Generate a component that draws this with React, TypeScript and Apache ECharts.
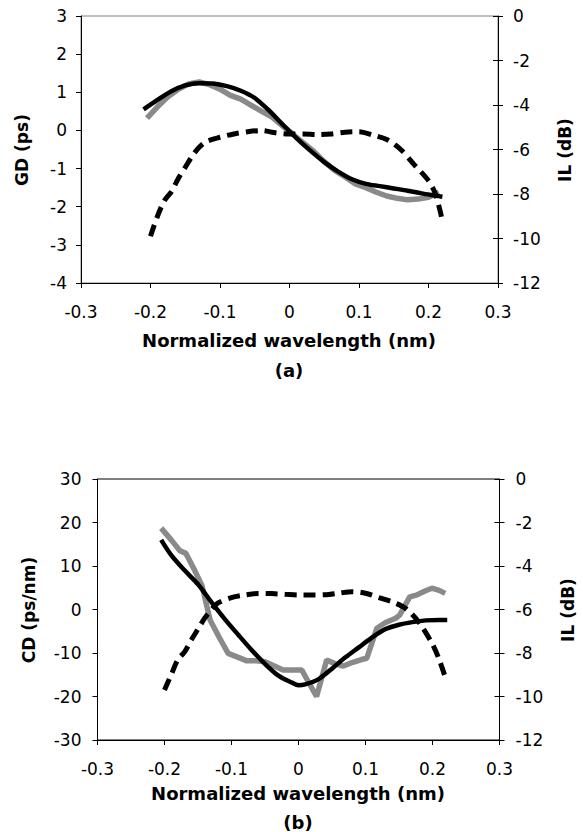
import React, { useEffect, useRef } from "react";
import * as echarts from "echarts";

// ---------- Data (a) ----------
const gdMeasX = [-0.205, -0.19, -0.175, -0.16, -0.145, -0.13, -0.115, -0.1, -0.085, -0.07, -0.055, -0.04, -0.025, -0.01, 0.005, 0.02, 0.035, 0.05, 0.065, 0.08, 0.095, 0.11, 0.125, 0.14, 0.155, 0.17, 0.185, 0.2, 0.215];
const gdMeas = [0.32, 0.62, 0.88, 1.08, 1.22, 1.27, 1.2, 1.08, 0.92, 0.82, 0.66, 0.5, 0.35, 0.12, -0.1, -0.33, -0.55, -0.82, -1.05, -1.22, -1.4, -1.5, -1.62, -1.72, -1.78, -1.82, -1.8, -1.75, -1.62];

const gdFitX = [-0.21, -0.19, -0.17, -0.15, -0.13, -0.11, -0.09, -0.07, -0.05, -0.03, -0.01, 0.01, 0.03, 0.05, 0.07, 0.09, 0.11, 0.13, 0.15, 0.17, 0.19, 0.21, 0.22];
const gdFit = [0.55, 0.8, 1.03, 1.18, 1.24, 1.23, 1.16, 1.04, 0.85, 0.53, 0.16, -0.2, -0.53, -0.83, -1.08, -1.28, -1.4, -1.46, -1.52, -1.58, -1.65, -1.71, -1.74];

const ilAX = [-0.2, -0.19, -0.18, -0.17, -0.16, -0.15, -0.14, -0.13, -0.12, -0.1, -0.08, -0.06, -0.04, -0.02, 0, 0.02, 0.04, 0.06, 0.08, 0.1, 0.12, 0.14, 0.16, 0.18, 0.2, 0.21, 0.22];
const ilA = [-9.9, -9.0, -8.3, -7.9, -7.3, -6.8, -6.3, -5.9, -5.65, -5.45, -5.3, -5.2, -5.15, -5.25, -5.3, -5.3, -5.33, -5.3, -5.22, -5.2, -5.35, -5.55, -6.0, -6.7, -7.4, -8.0, -9.2];

// ---------- Data (b) ----------
const cdMeasX = [-0.205, -0.19, -0.177, -0.168, -0.155, -0.144, -0.132, -0.118, -0.105, -0.09, -0.077, -0.063, -0.05, -0.036, -0.023, -0.009, 0.005, 0.016, 0.027, 0.042, 0.055, 0.067, 0.08, 0.094, 0.102, 0.117, 0.13, 0.145, 0.151, 0.166, 0.176, 0.188, 0.199, 0.21, 0.219];
const cdMeas = [18.7, 16, 13.5, 12.9, 9, 5.5, -2.4, -6.5, -10.1, -11, -11.8, -11.8, -12, -13, -13.9, -13.9, -13.9, -17, -20, -11.6, -12.5, -13, -12.2, -11.5, -11.2, -4.3, -3, -2, -1.3, 2.9, 3.3, 4.2, 4.9, 4.4, 3.7];

const cdFitX = [-0.205, -0.19, -0.17, -0.15, -0.13, -0.11, -0.09, -0.07, -0.05, -0.03, -0.01, 0, 0.01, 0.03, 0.05, 0.07, 0.09, 0.11, 0.13, 0.15, 0.17, 0.19, 0.21, 0.222];
const cdFit = [16, 12.5, 9, 5.8, 1.7, -2.2, -5.8, -9.3, -12.5, -15.2, -16.8, -17.4, -17.2, -16, -13.6, -11, -8.7, -6.4, -4.5, -3.5, -2.9, -2.5, -2.4, -2.4];

const ilBX = [-0.2, -0.19, -0.18, -0.17, -0.16, -0.15, -0.14, -0.13, -0.12, -0.1, -0.08, -0.06, -0.04, -0.02, 0, 0.02, 0.04, 0.06, 0.08, 0.1, 0.12, 0.14, 0.16, 0.18, 0.2, 0.21, 0.22];
const ilB = [-9.7, -9.0, -8.3, -7.95, -7.4, -6.9, -6.4, -6.0, -5.7, -5.45, -5.33, -5.26, -5.27, -5.3, -5.33, -5.33, -5.32, -5.25, -5.18, -5.25, -5.45, -5.65, -5.95, -6.6, -7.6, -8.3, -9.2];

// ---------- Axis ticks ----------
const xTicks = { min: -0.3, max: 0.3, interval: 0.1 };
const gdTicks = { min: -4, max: 3, interval: 1 };
const cdTicks = { min: -30, max: 30, interval: 10 };
const ilTicks = { min: -12, max: 0, interval: 2 };

const zip = (xs: number[], ys: number[]) => xs.map((x, i) => [x, ys[i]]);

const FONT = '"DejaVu Sans", "Liberation Sans", sans-serif';
const GRAY = "#8a8a8a";

function xAxis(gridIndex: number) {
  return {
    type: "value",
    gridIndex,
    ...xTicks,
    axisLine: { show: true, onZero: false, lineStyle: { color: "#000", width: 1 } },
    axisTick: { show: true, inside: false, length: 5, lineStyle: { color: "#000" } },
    axisLabel: {
      margin: 20,
      color: "#000",
      fontSize: 17,
      fontFamily: FONT,
      formatter: (v: number) => String(parseFloat(v.toFixed(1))),
    },
    splitLine: { show: false },
  };
}

function leftAxis(gridIndex: number, ticks: any, margin: number) {
  return {
    type: "value",
    gridIndex,
    position: "left",
    ...ticks,
    axisLine: { show: true, onZero: false, lineStyle: { color: "#000", width: 1 } },
    axisTick: { show: true, inside: false, length: 5, lineStyle: { color: "#000" } },
    axisLabel: { margin, color: "#000", fontSize: 17, fontFamily: FONT },
    splitLine: { show: false },
  };
}

function rightAxis(gridIndex: number, margin: number) {
  return {
    type: "value",
    gridIndex,
    position: "right",
    ...ilTicks,
    axisLine: { show: true, onZero: false, lineStyle: { color: "#000", width: 1 } },
    axisTick: { show: true, inside: false, length: 5, lineStyle: { color: "#000" } },
    axisLabel: { margin, color: "#000", fontSize: 17, fontFamily: FONT },
    splitLine: { show: false },
  };
}

function rightInsideTicks(gridIndex: number) {
  return {
    type: "value",
    gridIndex,
    position: "right",
    offset: 0,
    ...ilTicks,
    axisLine: { show: false, onZero: false },
    axisTick: { show: true, inside: true, length: 5, lineStyle: { color: "#000" } },
    axisLabel: { show: false },
    splitLine: { show: false },
  };
}

function text(str: string, x: number, y: number, size: number, rotate = false) {
  return {
    type: "text",
    x,
    y,
    rotation: rotate ? Math.PI / 2 : 0,
    silent: true,
    style: {
      text: str,
      fill: "#000",
      fontSize: size,
      fontWeight: "bold",
      fontFamily: FONT,
      align: "center",
      verticalAlign: "middle",
      textAlign: "center",
      textVerticalAlign: "middle",
    },
  };
}

export default function App() {
  const ref = useRef<HTMLDivElement>(null);

  useEffect(() => {
    if (!ref.current) return;
    const chart = echarts.init(ref.current, null, { renderer: "svg" });
    chart.setOption({
      animation: false,
      backgroundColor: "#fff",
      grid: [
        { left: 81, top: 16, width: 417, height: 267, show: true, borderColor: "#808080", borderWidth: 1, backgroundColor: "transparent" },
        { left: 97.5, top: 479, width: 402, height: 261, show: true, borderColor: "#000", borderWidth: 1, backgroundColor: "transparent" },
      ],
      xAxis: [xAxis(0), xAxis(1)],
      yAxis: [
        leftAxis(0, gdTicks, 14),
        rightAxis(0, 15),
        rightInsideTicks(0),
        leftAxis(1, cdTicks, 16),
        rightAxis(1, 16),
        rightInsideTicks(1),
      ],
      series: [
        {
          type: "line", name: "GD measured", xAxisIndex: 0, yAxisIndex: 0,
          data: zip(gdMeasX, gdMeas), showSymbol: false,
          lineStyle: { color: GRAY, width: 5.5 },
        },
        {
          type: "line", name: "IL (a)", xAxisIndex: 0, yAxisIndex: 1,
          data: zip(ilAX, ilA), showSymbol: false, smooth: 0.3,
          lineStyle: { color: "#000", width: 5, type: [12, 7], cap: "butt" },
        },
        {
          type: "line", name: "GD fit", xAxisIndex: 0, yAxisIndex: 0,
          data: zip(gdFitX, gdFit), showSymbol: false, smooth: 0.3,
          lineStyle: { color: "#000", width: 4.5 },
        },
        {
          type: "line", name: "CD measured", xAxisIndex: 1, yAxisIndex: 3,
          data: zip(cdMeasX, cdMeas), showSymbol: false,
          lineStyle: { color: GRAY, width: 5.5 },
        },
        {
          type: "line", name: "IL (b)", xAxisIndex: 1, yAxisIndex: 4,
          data: zip(ilBX, ilB), showSymbol: false, smooth: 0.3,
          lineStyle: { color: "#000", width: 5, type: [12, 7], cap: "butt" },
        },
        {
          type: "line", name: "CD fit", xAxisIndex: 1, yAxisIndex: 3,
          data: zip(cdFitX, cdFit), showSymbol: false, smooth: 0.3,
          lineStyle: { color: "#000", width: 4.5 },
        },
      ],
      graphic: [
        text("GD (ps)", 22, 150, 17, true),
        text("IL (dB)", 565, 150, 17, true),
        text("Normalized wavelength (nm)", 289, 340, 18),
        text("(a)", 289, 370, 18),
        text("CD (ps/nm)", 29, 610, 17, true),
        text("IL (dB)", 568, 610, 17, true),
        text("Normalized wavelength (nm)", 298, 793, 18),
        text("(b)", 298, 822, 18),
      ],
    });
    return () => chart.dispose();
  }, []);

  return (
    <div
      ref={ref}
      style={{ position: "absolute", left: 0, top: 0, width: 583, height: 832 }}
    />
  );
}
